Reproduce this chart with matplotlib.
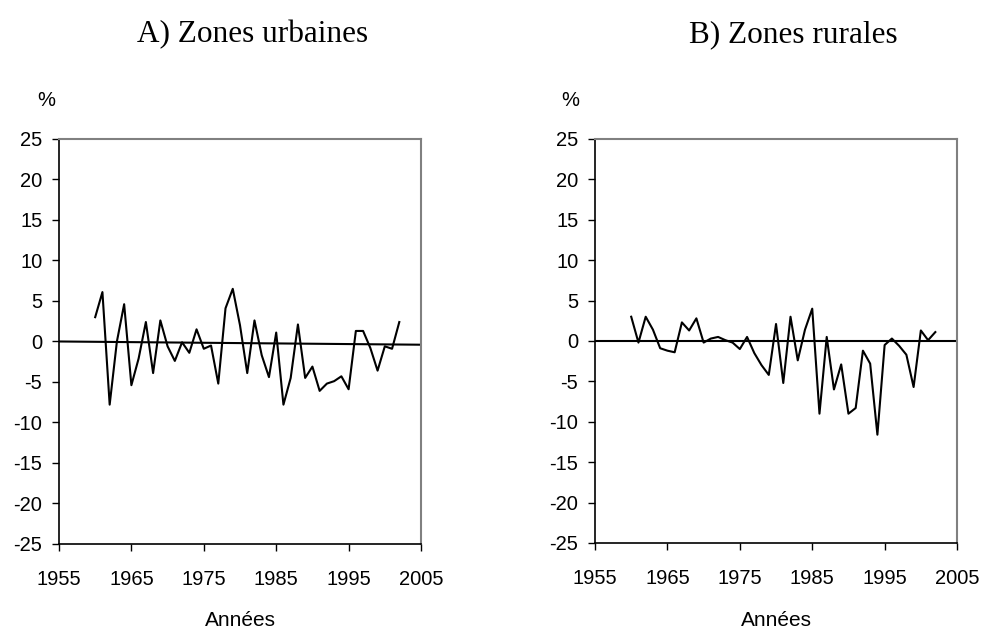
import numpy as np
import matplotlib
matplotlib.use("Agg")
import matplotlib.pyplot as plt

plt.rcParams['font.family'] = ['Liberation Sans', 'DejaVu Sans']
plt.rcParams['axes.unicode_minus'] = False

# Years and growth rates (%)
years = list(range(1960, 2003))

urbain = [3.0, 6.1, -7.8, 0.0, 4.6, -5.4, -2.1, 2.4, -3.9, 2.6,
          -0.6, -2.4, -0.1, -1.4, 1.5, -0.9, -0.5, -5.2, 4.1, 6.5,
          2.0, -3.9, 2.6, -1.7, -4.4, 1.1, -7.8, -4.5, 2.1, -4.5,
          -3.1, -6.1, -5.2, -4.9, -4.3, -5.9, 1.3, 1.3, -0.8, -3.6,
          -0.6, -0.9, 2.4]

rural = [3.0, -0.2, 3.0, 1.4, -0.9, -1.2, -1.4, 2.3, 1.3, 2.8,
         -0.2, 0.3, 0.5, 0.1, -0.2, -1.0, 0.5, -1.5, -3.0, -4.2,
         2.1, -5.2, 3.0, -2.4, 1.4, 4.0, -9.0, 0.5, -6.0, -2.9,
         -9.0, -8.3, -1.2, -2.8, -11.6, -0.5, 0.3, -0.6, -1.7, -5.7,
         1.3, 0.1, 1.1]

# horizontal reference lines (trend for A, zero for B)
trend_x = [1955, 2005]
trend_urbain = [0.0, -0.4]
trend_rural = [0.0, 0.0]

titles = ["A) Zones urbaines", "B) Zones rurales"]
xticks = [1955, 1965, 1975, 1985, 1995, 2005]
yticks = list(range(-25, 30, 5))

fig = plt.figure(figsize=(9.83, 6.28), dpi=100)
ax1 = fig.add_axes([0.0600, 0.1338, 0.3683, 0.6449])
ax2 = fig.add_axes([0.6053, 0.1354, 0.3683, 0.6433])

for ax, vals, trend in [(ax1, urbain, trend_urbain), (ax2, rural, trend_rural)]:
    ax.plot(trend_x, trend, color='black', linewidth=1.5)
    ax.plot(years, vals, color='black', linewidth=1.5)
    ax.set_xlim(1955, 2005)
    ax.set_ylim(-25, 25)
    ax.set_xticks(xticks)
    ax.set_yticks(yticks)
    ax.tick_params(axis='both', direction='out', length=5, width=1,
                   labelsize=14.5, color='black')
    ax.tick_params(axis='x', pad=13.5)
    ax.tick_params(axis='y', pad=7)
    for side in ['top', 'right']:
        ax.spines[side].set_color('#808080')
        ax.spines[side].set_linewidth(1.5)
    for side in ['left', 'bottom']:
        ax.spines[side].set_color('black')
        ax.spines[side].set_linewidth(1.2)

# titles, unit labels and x labels
fig.text(0.2574, 1 - 42 / 628, titles[0], family='Liberation Serif',
         fontsize=22.5, ha='center', va='baseline')
fig.text(0.8067, 1 - 42 / 628, titles[1], family='Liberation Serif',
         fontsize=22.5, ha='center', va='baseline')

fig.text(46 / 983, 1 - 101 / 628, "%", fontsize=14.5, ha='center', va='center')
fig.text(570 / 983, 1 - 101 / 628, "%", fontsize=14.5, ha='center', va='center')

fig.text(240 / 983, 2.5 / 628, "Années", fontsize=15, ha='center', va='baseline')
fig.text(776 / 983, 2.5 / 628, "Années", fontsize=15, ha='center', va='baseline')

fig.savefig("out.png", dpi=100)
